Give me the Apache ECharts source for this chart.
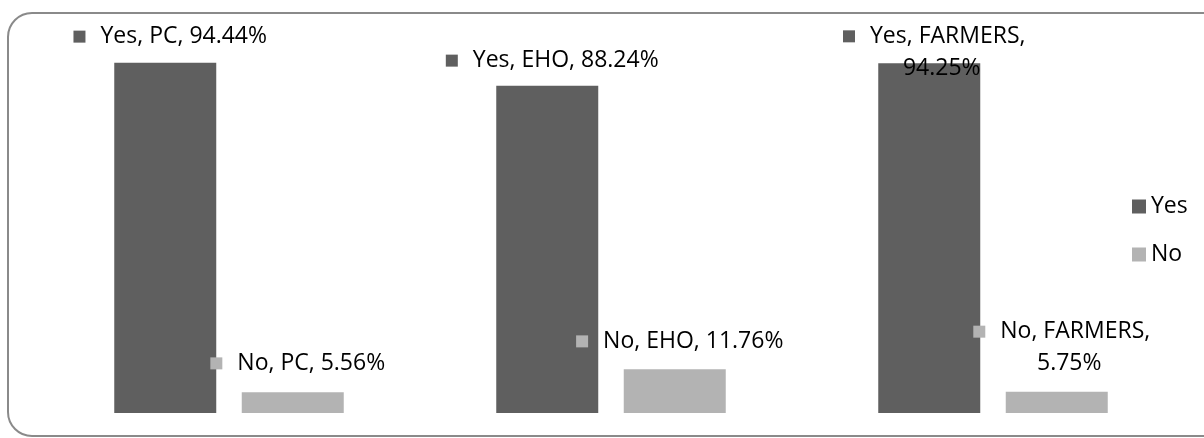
<!DOCTYPE html>
<html>
<head>
<meta charset="utf-8">
<script src="https://cdn.jsdelivr.net/npm/echarts@6/dist/echarts.min.js"></script>
<style>
html,body{margin:0;padding:0;background:#fff;}
#chart{width:1204px;height:438px;}
</style>
</head>
<body>
<div id="chart"></div>
<script>
const categories = ['PC', 'EHO', 'FARMERS'];
const seriesNames = ['Yes', 'No'];
const yesValues = [94.44, 88.24, 94.25];
const noValues = [5.56, 11.76, 5.75];

const YES_COLOR = '#5f5f5f';
const NO_COLOR = '#b3b3b3';
const FONT = '"Open Sans"';
const FS = 23;

function makeLabel(seriesName, color, cat, val, wrap, distance) {
  const v = val.toFixed(2) + '%';
  const text = wrap
    ? '{sq| }{t|' + seriesName + ', ' + cat + ',}\n{t|' + v + '}'
    : '{sq| }{t|' + seriesName + ', ' + cat + ', ' + v + '}';
  const lh = wrap ? 32 : 26;
  return {
    show: true,
    position: 'top',
    distance: distance,
    offset: [5, 0],
    formatter: text,
    lineHeight: lh,
    rich: {
      sq: { width: 12, height: 12, backgroundColor: color, padding: 0 },
      t: { fontFamily: FONT, fontSize: FS, color: '#000', padding: [0, 0, 0, 15], lineHeight: lh }
    }
  };
}

function buildData(values, name, color, distances) {
  return values.map((v, i) => ({
    value: v,
    label: makeLabel(name, color, categories[i], v, categories[i] === 'FARMERS', distances[i])
  }));
}

const chart = echarts.init(document.getElementById('chart'), null, { renderer: 'canvas' });
chart.setOption({
  backgroundColor: '#ffffff',
  animation: false,
  graphic: [{
    type: 'rect',
    shape: { x: 8, y: 13, width: 1222, height: 423, r: 24 },
    style: { fill: 'none', stroke: '#8a8a8a', lineWidth: 2 },
    z: 100
  }],
  grid: { left: 38, right: 20, top: 42, bottom: 25 },
  legend: {
    data: seriesNames,
    orient: 'vertical',
    left: 1127,
    top: 190,
    icon: 'rect',
    itemWidth: 14,
    itemHeight: 14,
    itemGap: 25,
    textStyle: { fontFamily: FONT, fontSize: FS, color: '#000' }
  },
  xAxis: {
    type: 'category',
    data: categories,
    show: false
  },
  yAxis: {
    type: 'value',
    min: 0,
    max: 100,
    show: false
  },
  series: [
    {
      name: 'Yes',
      type: 'bar',
      barWidth: 102,
      barGap: '25%',
      itemStyle: { color: YES_COLOR },
      data: buildData(yesValues, 'Yes', YES_COLOR, [13, 12, -21])
    },
    {
      name: 'No',
      type: 'bar',
      barWidth: 102,
      itemStyle: { color: NO_COLOR },
      data: buildData(noValues, 'No', NO_COLOR, [16, 15, 12])
    }
  ]
});
</script>
</body>
</html>
